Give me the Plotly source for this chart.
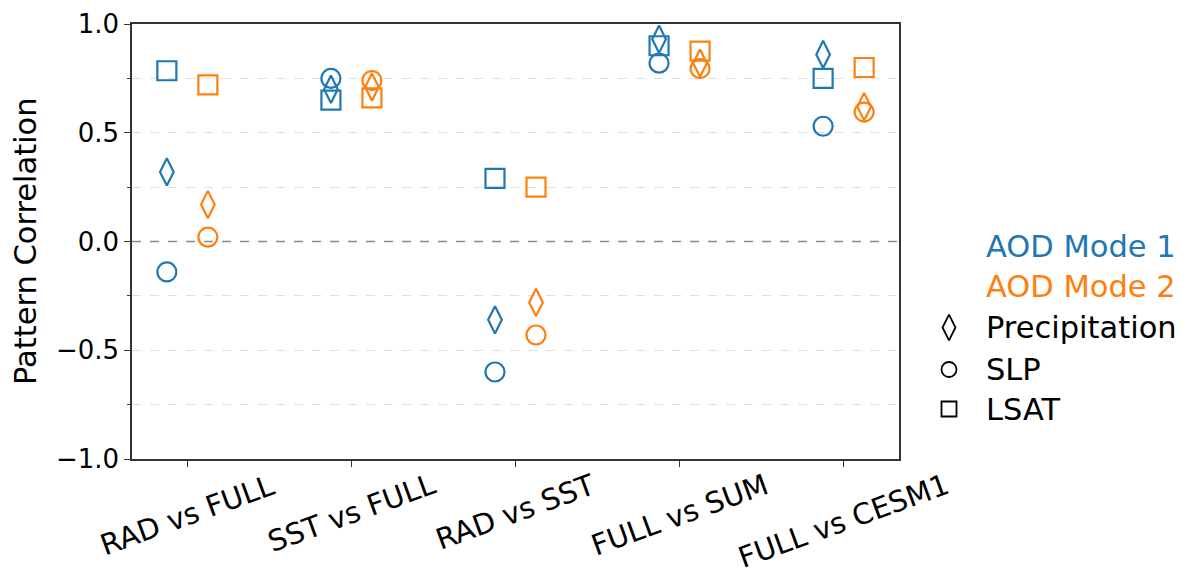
import numpy as np
import plotly.graph_objects as go

# ---------------- data ----------------
comparisons = ["RAD vs FULL", "SST vs FULL", "RAD vs SST", "FULL vs SUM", "FULL vs CESM1"]
modes = ["AOD Mode 1", "AOD Mode 2"]
variables = ["Precipitation", "SLP", "LSAT"]

mode1_precip = [0.32, 0.70, -0.36, 0.93, 0.86]
mode1_slp    = [-0.14, 0.75, -0.60, 0.82, 0.53]
mode1_lsat   = [0.785, 0.65, 0.29, 0.90, 0.75]

mode2_precip = [0.17, 0.71, -0.28, 0.82, 0.62]
mode2_slp    = [0.02, 0.74, -0.43, 0.795, 0.595]
mode2_lsat   = [0.72, 0.66, 0.25, 0.875, 0.80]

ytick_vals = [-1.0, -0.5, 0.0, 0.5, 1.0]
ytick_text = ["\u22121.0", "\u22120.5", "0.0", "0.5", "1.0"]

# ---------------- style ----------------
colors = {"AOD Mode 1": "#1f77b4", "AOD Mode 2": "#ff7f0e"}
symbols = {"Precipitation": "diamond-tall-open", "SLP": "circle-open", "LSAT": "square-open"}
sizes = {"Precipitation": 19.5, "SLP": 19, "LSAT": 19}
offsets = {"AOD Mode 1": -0.125, "AOD Mode 2": 0.125}
FONT = "DejaVu Sans"

W, H = 1187, 578
L, R, T, B = 132, 5, 24, 119
plot_right_px = 899
pw = W - L - R
ph = H - T - B
main_dom = (plot_right_px - L) / pw

def px2paperx(px):
    return (px - L) / pw

def py2papery(py):
    return (H - B - py) / ph

series = {
    ("AOD Mode 1", "Precipitation"): mode1_precip,
    ("AOD Mode 1", "SLP"): mode1_slp,
    ("AOD Mode 1", "LSAT"): mode1_lsat,
    ("AOD Mode 2", "Precipitation"): mode2_precip,
    ("AOD Mode 2", "SLP"): mode2_slp,
    ("AOD Mode 2", "LSAT"): mode2_lsat,
}

fig = go.Figure()
xidx = np.arange(len(comparisons))
for mode in modes:
    for var in ["LSAT", "SLP", "Precipitation"]:
        fig.add_trace(go.Scatter(
            x=xidx + offsets[mode], y=series[(mode, var)], mode="markers",
            name=f"{mode} {var}", showlegend=False,
            marker=dict(symbol=symbols[var], size=sizes[var], color=colors[mode],
                        line=dict(color=colors[mode], width=2.2)),
        ))

# legend built on a side axis (pixel coordinates)
leg_x0 = L + 0.75 * pw
leg_x1 = L + pw
leg_items = [("Precipitation", 327.5), ("SLP", 369.5), ("LSAT", 409)]
leg_sym_sizes = {"Precipitation": 18.5, "SLP": 15, "LSAT": 15}
for var, ypx in leg_items:
    fig.add_trace(go.Scatter(
        x=[949], y=[ypx], xaxis="x2", yaxis="y2", mode="markers", showlegend=False,
        hoverinfo="skip",
        marker=dict(symbol=symbols[var], size=leg_sym_sizes[var], color="black",
                    line=dict(color="black", width=1.8)),
    ))

annotations = []
leg_texts = [("AOD Mode 1", colors["AOD Mode 1"], 246.5),
             ("AOD Mode 2", colors["AOD Mode 2"], 286),
             ("Precipitation", "black", 327.5),
             ("SLP", "black", 369.5),
             ("LSAT", "black", 409)]
for txt, col, ypx in leg_texts:
    annotations.append(dict(x=984, y=ypx, xref="x2", yref="y2", text=txt, showarrow=False,
                            xanchor="left", yanchor="middle",
                            font=dict(family=FONT, size=30.5, color=col)))

# x tick labels rotated, centred on ticks
for i, lab in enumerate(comparisons):
    annotations.append(dict(x=i, y=py2papery(465), xref="x", yref="paper", text=lab,
                            showarrow=False, xanchor="center", yanchor="top", textangle=-20,
                            font=dict(family=FONT, size=29, color="black")))

# y axis title
annotations.append(dict(x=px2paperx(25), y=py2papery(241), xref="paper", yref="paper",
                        text="Pattern Correlation", showarrow=False, textangle=-90,
                        xanchor="center", yanchor="middle",
                        font=dict(family=FONT, size=30.5, color="black")))

fig.update_layout(
    width=W, height=H,
    margin=dict(l=L, r=R, t=T, b=B),
    paper_bgcolor="white", plot_bgcolor="white",
    font=dict(family=FONT, size=26, color="black"),
    showlegend=False,
    annotations=annotations,
    shapes=[dict(type="line", xref="x domain", yref="y", x0=0, x1=1, y0=0, y1=0,
                 line=dict(color="#8a8a8a", width=1.3, dash="dash"), layer="above")],
    xaxis=dict(domain=[0, main_dom], range=[-0.3375, 4.3375], tickvals=list(xidx),
               showticklabels=False, ticks="outside", ticklen=6, tickwidth=1.3,
               tickcolor="#333", showgrid=False, zeroline=False,
               showline=True, linecolor="#333", linewidth=1.5, mirror=True),
    yaxis=dict(range=[-1, 1], tickvals=ytick_vals, ticktext=ytick_text,
               ticks="outside", ticklen=6, tickwidth=1.3, tickcolor="#333",
               tickfont=dict(family=FONT, size=26, color="black"),
               showgrid=True, gridcolor="#e0e0e0", griddash="dash", gridwidth=1,
               minor=dict(tickvals=[-0.75, -0.25, 0.25, 0.75], ticks="outside", ticklen=3.5,
                          tickcolor="#333", showgrid=True, gridcolor="#e0e0e0",
                          griddash="dash", gridwidth=1),
               zeroline=False, showline=True, linecolor="#333", linewidth=1.5, mirror=True),
    xaxis2=dict(domain=[0.75, 1], range=[leg_x0, leg_x1], visible=False, fixedrange=True),
    yaxis2=dict(domain=[0, 1], range=[H - B, T], visible=False, anchor="x2", fixedrange=True),
)

fig.write_html("out.html")
